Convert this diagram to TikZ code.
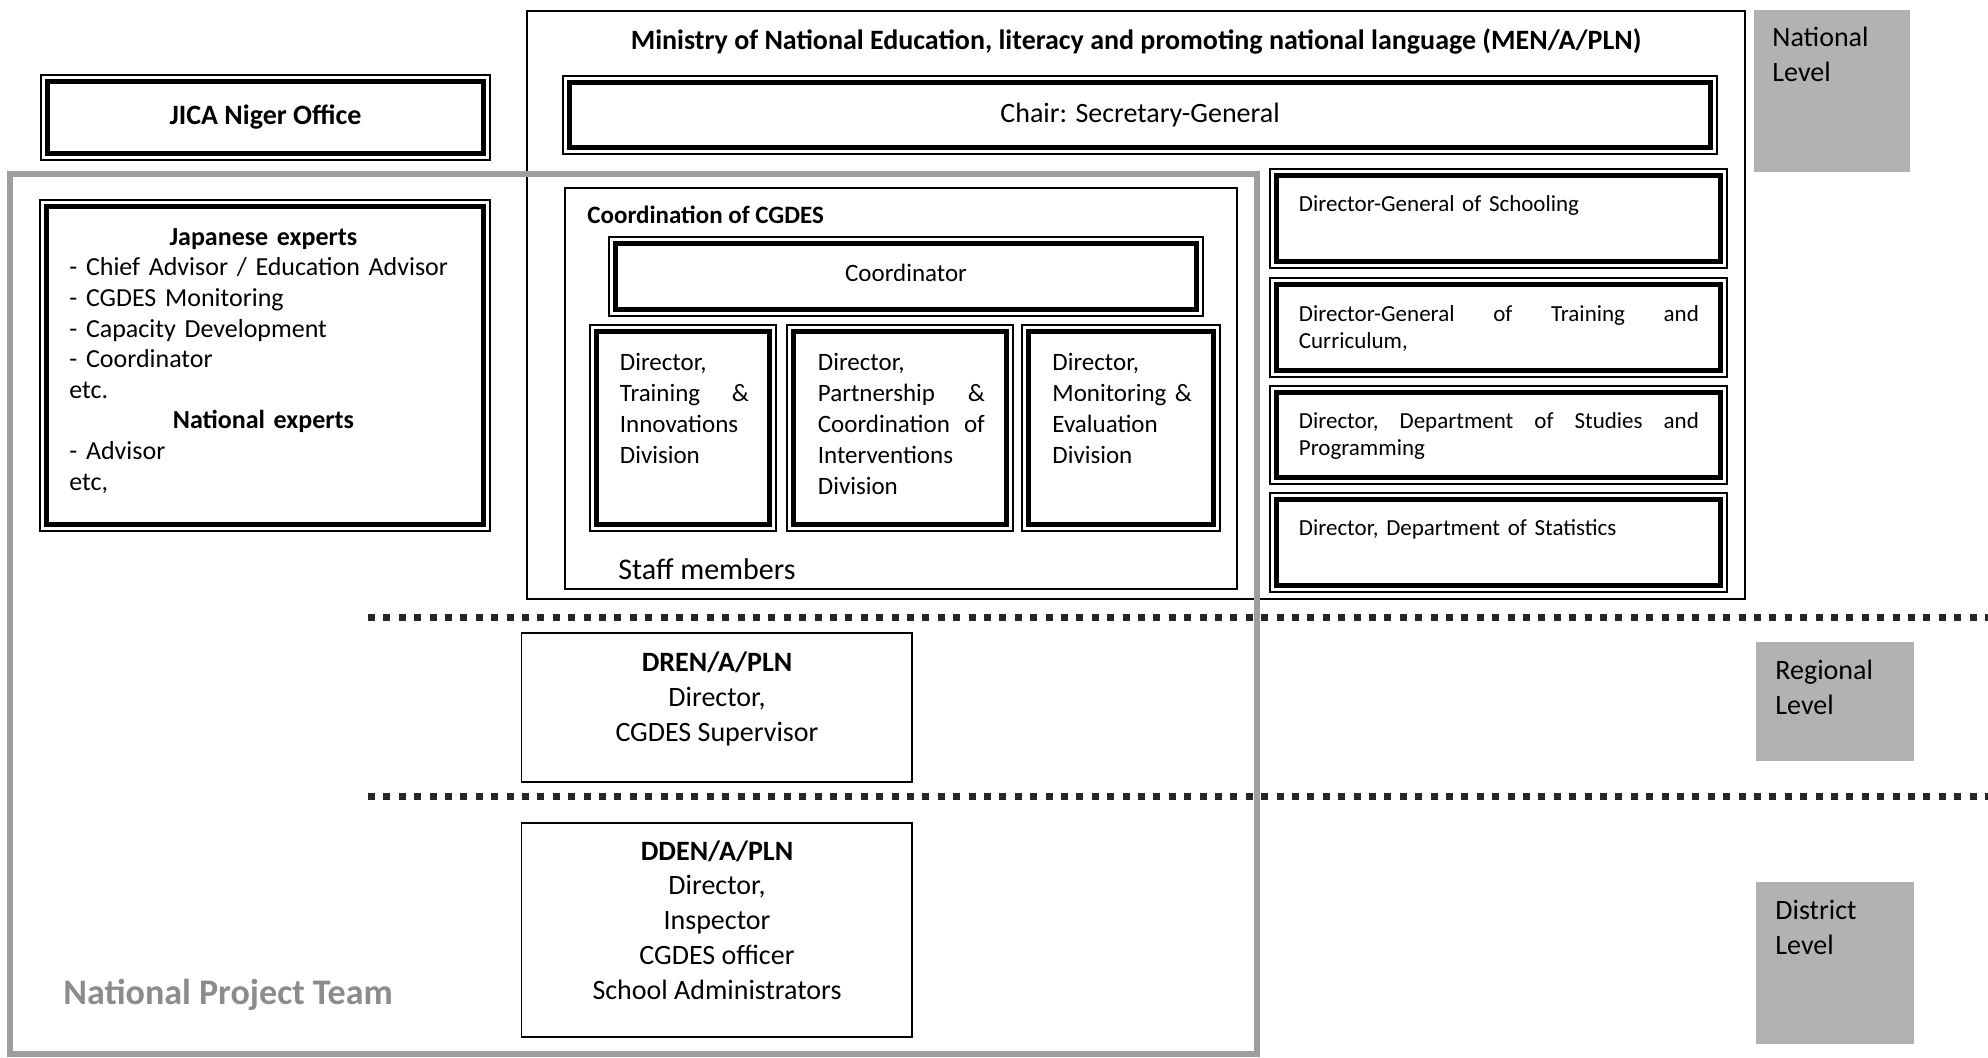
\documentclass[tikz,border=0pt]{standalone}
\usepackage{fontspec}
\setmainfont{Carlito}
\usetikzlibrary{fit}
\newcommand\fsz[2]{\fontsize{#1}{#2}\selectfont}
\begin{document}
\begin{tikzpicture}[x=0.5pt,y=-0.5pt,
  thinbox/.style={draw=black, line width=0.8pt, inner sep=0pt},
  dbox/.style={fill=white, draw=black, line width=2.5pt, inner sep=0pt,
    preaction={draw=black, line width=7.5pt},
    preaction={draw=white, line width=5.5pt}},
  levelbox/.style={fill=black!30, draw=none, inner sep=0pt},
  lvltxt/.style={inner sep=0pt, anchor=north west, align=left, font=\fsz{14pt}{17.5pt}},
  divtxt/.style={inner sep=0pt, anchor=north west, align=left, font=\fsz{12.5pt}{15.5pt}},
  rtxt/.style={inner sep=0pt, anchor=north west, align=left, text width=200pt, font=\fsz{11.5pt}{13.75pt}},
  ctxt/.style={inner sep=0pt, align=center, font=\fsz{14pt}{17.4pt}},
  sepline/.style={draw=black!85, line width=3.5pt, dash pattern=on 3.5pt off 4.2pt},
  nptframe/.style={draw=black!38, line width=3pt, inner sep=0pt}
]
\path[use as bounding box, fill=white] (0,0) rectangle (1988,1058);

% level boxes
\node[levelbox, fit={(1753.5,10) (1910,172)}] (natbox) {};
\node[lvltxt] (nattxt) at (1772,21.5) {\strut National\\Level};
\node[levelbox, fit={(1756,642) (1914,761)}] (regbox) {};
\node[lvltxt] (regtxt) at (1775,654.5) {\strut Regional\\Level};
\node[levelbox, fit={(1756,882) (1914,1044)}] (disbox) {};
\node[lvltxt] (distxt) at (1775,894.5) {\strut District\\Level};

% ministry
\node[thinbox, fit={(527,11) (1745,599)}] (min) {};
\node[inner sep=0pt, font=\bfseries\fsz{14pt}{17pt}] (mintitle) at (1136,41)
  {Ministry of National Education, literacy and promoting national language (MEN/A/PLN)};
\node[dbox, fit={(569.5,82.5) (1710.5,147.5)}] (chair) {};
\node[inner sep=0pt, font=\fsz{14pt}{17pt}] (chairtxt) at (chair.center) {Chair: Secretary-General};

% JICA
\node[dbox, fit={(47.5,81.5) (483.5,153.5)}] (jica) {};
\node[inner sep=0pt, font=\bfseries\fsz{14pt}{17pt}] (jicatxt) at (jica.center) {JICA Niger Office};

% experts
\node[dbox, fit={(46.5,206.5) (483.5,524.5)}] (jexp) {};
\node[inner sep=0pt, anchor=north west, text width=194pt, align=left, font=\fsz{13pt}{15.3pt}] (jexptxt) at (69,223.4)
  {\strut\makebox[\linewidth]{\bfseries Japanese experts}\\- Chief Advisor / Education Advisor\\- CGDES Monitoring\\- Capacity Development\\- Coordinator\\etc.\\\makebox[\linewidth]{\bfseries National experts}\\- Advisor\\etc,};

% coordination of CGDES
\node[thinbox, fit={(565,188) (1237,589)}] (coord) {};
\node[anchor=base west, inner sep=0pt, font=\bfseries\fsz{12.5pt}{15pt}] (coordlbl) at (587,224) {Coordination of CGDES};
\node[dbox, fit={(615,243.5) (1196.5,309.5)}] (coordr) {};
\node[inner sep=0pt, font=\fsz{12.5pt}{15pt}] (coordrtxt) at (906,272.5) {Coordinator};
\node[dbox, fit={(596.5,332) (769.5,524.5)}] (div1) {};
\node[divtxt, text width=64.5pt] (div1txt) at (619.5,348.3)
  {\strut Director,\\Training\hfill\&\\Innovations\\Division};
\node[dbox, fit={(793.5,332) (1006.5,524.5)}] (div2) {};
\node[divtxt, text width=83.5pt] (div2txt) at (817.5,348.3)
  {\strut Director,\\Partnership\hfill\&\\Coordination\hfill of\\Interventions\\Division};
\node[dbox, fit={(1028.5,332) (1213.5,524.5)}] (div3) {};
\node[divtxt, text width=72pt] (div3txt) at (1052,348.3)
  {\strut Director,\\Monitoring \&\\Evaluation\\Division};
\node[anchor=base west, inner sep=0pt, font=\fsz{15pt}{18pt}] (staff) at (618,580) {Staff members};

% right column
\node[dbox, fit={(1276.5,175.5) (1720.5,261.5)}] (r1) {};
\node[rtxt] (r1txt) at (1298.5,191.4) {\strut Director-General of Schooling};
\node[dbox, fit={(1276.5,284.5) (1720.5,370.5)}] (r2) {};
\node[rtxt] (r2txt) at (1298.5,301.8) {\strut Director-General\hfill of\hfill Training\hfill and\\Curriculum,};
\node[dbox, fit={(1276.5,393) (1720.5,478)}] (r3) {};
\node[rtxt] (r3txt) at (1298.5,408.4) {\strut Director,\hfill Department\hfill of\hfill Studies\hfill and\\Programming};
\node[dbox, fit={(1276.5,499.5) (1720.5,585.5)}] (r4) {};
\node[rtxt] (r4txt) at (1298.5,515.4) {\strut Director, Department of Statistics};

% separators
\coordinate (s1a) at (368,618);
\coordinate (s1b) at (1988,618);
\coordinate (s2a) at (368,797);
\coordinate (s2b) at (1988,797);
\draw[sepline] (s1a) -- (s1b);
\draw[sepline] (s2a) -- (s2b);

% regional / district
\node[thinbox, fit={(521.5,633) (912,782)}] (dren) {};
\node[ctxt] (drentxt) at (717,699) {\textbf{DREN/A/PLN}\\Director,\\CGDES Supervisor};
\node[thinbox, fit={(521.5,823) (912,1037)}] (dden) {};
\node[ctxt] (ddentxt) at (717,920) {\textbf{DDEN/A/PLN}\\Director,\\Inspector\\CGDES officer\\School Administrators};

% national project team
\node[nptframe, fit={(9.5,174) (1257,1054)}] (npt) {};
\node[anchor=base west, inner sep=0pt, font=\bfseries\fsz{18pt}{21pt}, text=black!45] (npttxt) at (63,1004) {National Project Team};
\end{tikzpicture}
\end{document}
